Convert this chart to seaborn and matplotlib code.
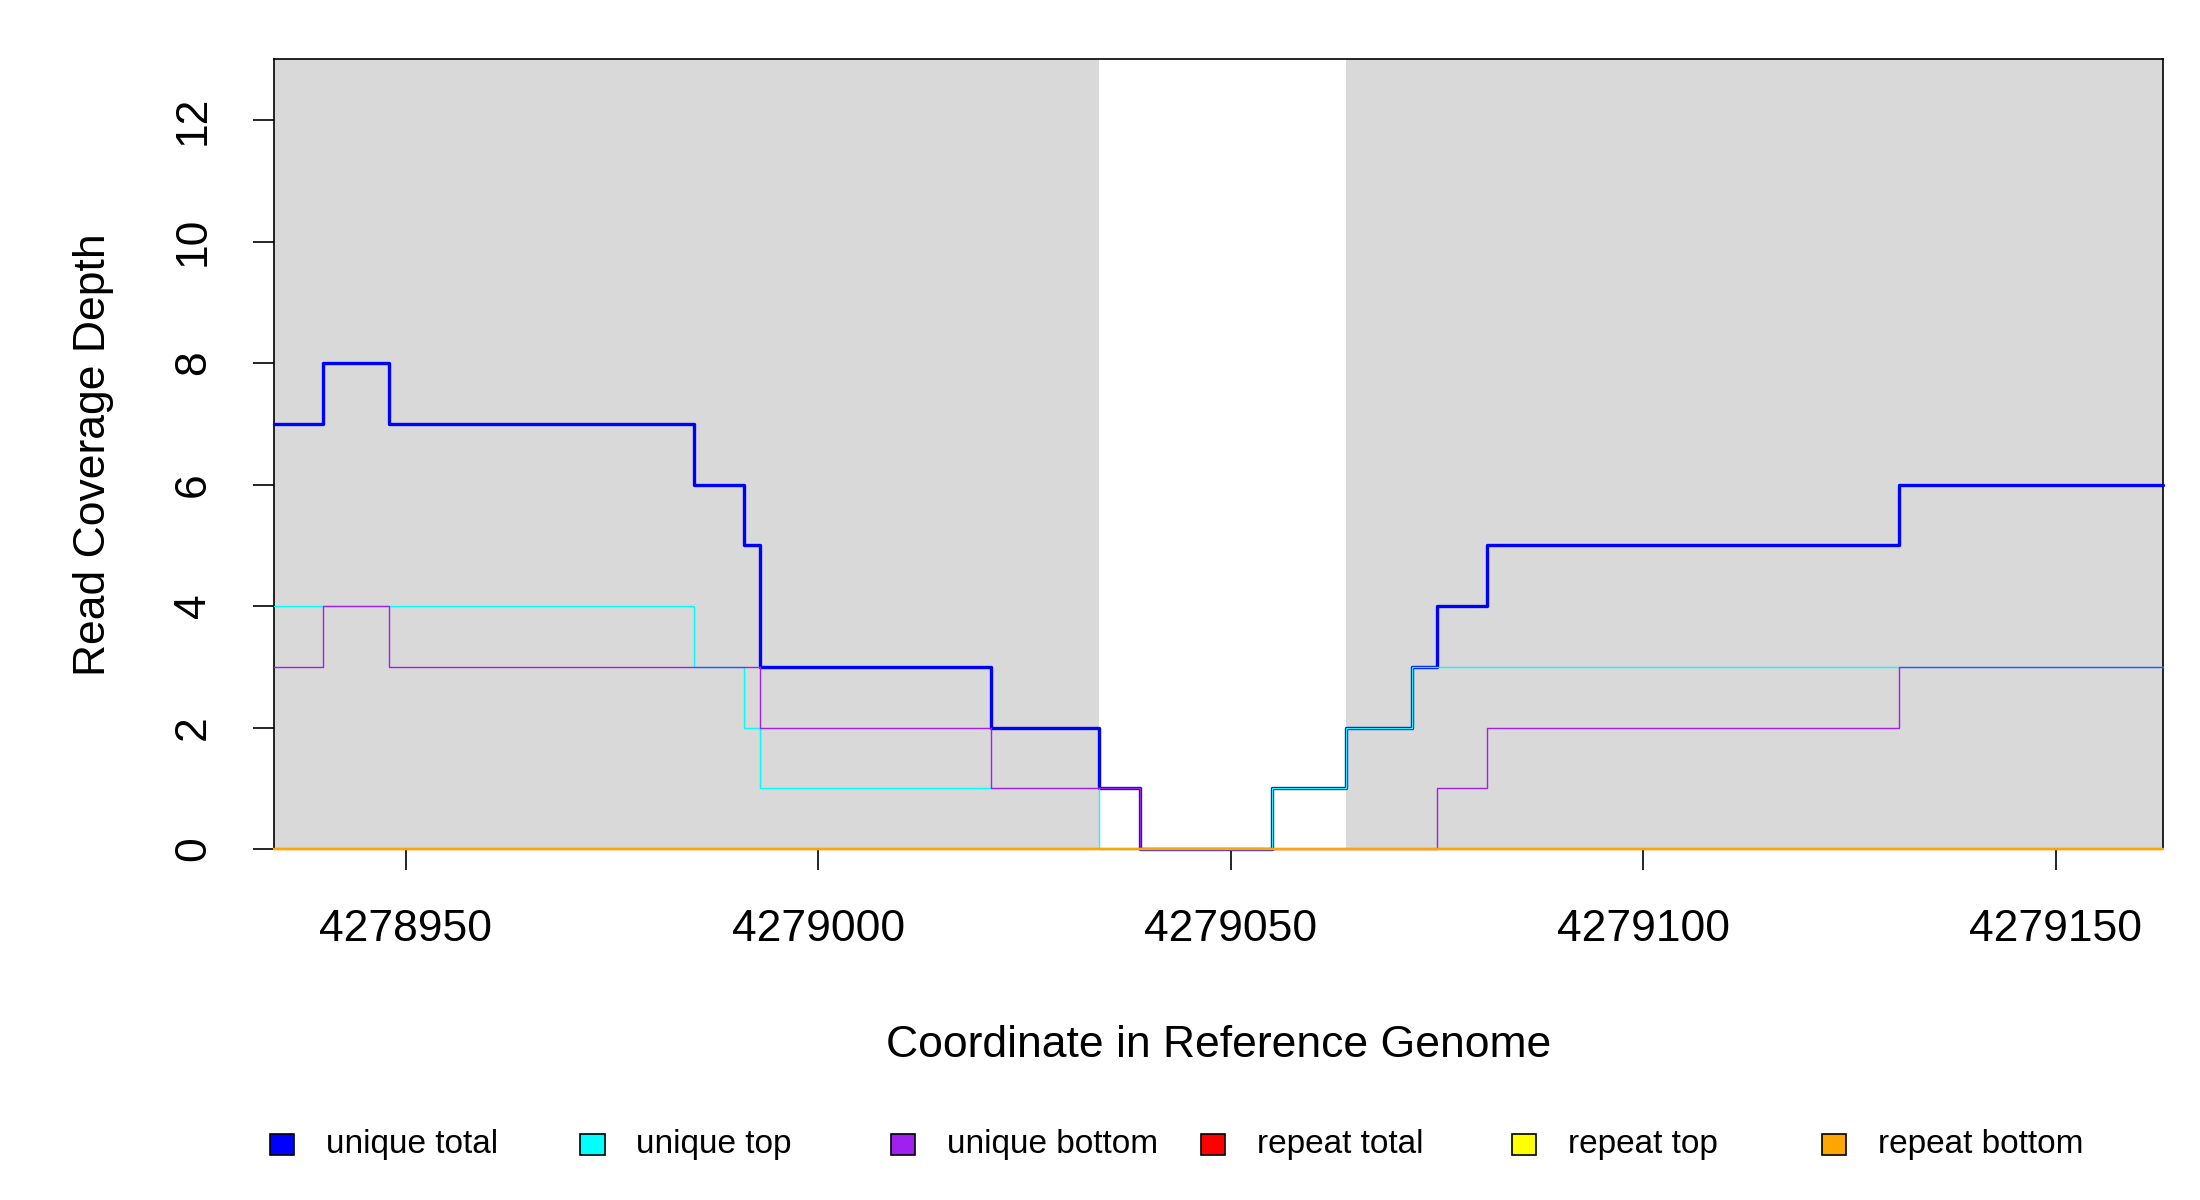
import matplotlib
matplotlib.use("Agg")
import matplotlib.pyplot as plt
from matplotlib.patches import Rectangle
import seaborn as sns
import pandas as pd

# breakpoints along the genome (step starts), last one is the right end
positions = [4278934, 4278940, 4278948, 4278985, 4278991, 4278993, 4279021, 4279034,
             4279039, 4279055, 4279064, 4279072, 4279075, 4279081, 4279131, 4279163]
unique_total = [7, 8, 7, 6, 5, 3, 2, 1, 0, 1, 2, 3, 4, 5, 6, 6]
unique_top = [4, 4, 4, 3, 2, 1, 1, 0, 0, 1, 2, 3, 3, 3, 3, 3]
unique_bottom = [3, 4, 3, 3, 3, 2, 1, 1, 0, 0, 0, 0, 1, 2, 3, 3]
repeat_total = [0] * len(positions)
repeat_top = [0] * len(positions)
repeat_bottom = [0] * len(positions)

# unshaded window
window_start = 4279034
window_end = 4279064

x_ticks = [4278950, 4279000, 4279050, 4279100, 4279150]
y_ticks = [0, 2, 4, 6, 8, 10, 12]

labels = ["unique total", "unique top", "unique bottom", "repeat total", "repeat top", "repeat bottom"]
colors = ["#0000FF", "#00FFFF", "#A020F0", "#FF0000", "#FFFF00", "#FFA500"]

df = pd.DataFrame({
    "pos": positions,
    "unique total": unique_total,
    "unique top": unique_top,
    "unique bottom": unique_bottom,
    "repeat total": repeat_total,
    "repeat top": repeat_top,
    "repeat bottom": repeat_bottom,
})

sns.set_theme(style="white")
plt.rcParams["font.family"] = ["Liberation Sans", "DejaVu Sans"]
plt.rcParams["text.color"] = "black"
plt.rcParams["axes.labelcolor"] = "black"
plt.rcParams["xtick.color"] = "black"
plt.rcParams["ytick.color"] = "black"

fig = plt.figure(figsize=(11, 6), dpi=200)
ax = fig.add_axes([0.1244, 0.2925, 0.9832 - 0.1244, 0.9505 - 0.2925])

xmin, xmax = positions[0], positions[-1]
ax.axvspan(xmin, window_start, color="#D9D9D9", lw=0, zorder=0)
ax.axvspan(window_end, xmax, color="#D9D9D9", lw=0, zorder=0)

widths = [1.2, 0.5, 0.5, 0.8, 0.8, 0.8]
for lab, col, w in zip(labels, colors, widths):
    sns.lineplot(data=df, x="pos", y=lab, drawstyle="steps-post", color=col,
                 linewidth=w, estimator=None, ax=ax, clip_on=False, zorder=3)

ax.set_xlim(xmin, xmax)
ax.set_ylim(0, 13)
ax.set_xticks(x_ticks)
ax.set_xticklabels([str(v) for v in x_ticks])
ax.set_yticks(y_ticks)
ax.set_yticklabels([str(v) for v in y_ticks], rotation=90, va="center")
ax.tick_params(axis="both", direction="out", length=7.5, width=0.6, color="black",
               labelcolor="black", labelsize=16, pad=14, bottom=True, left=True)
for s in ax.spines.values():
    s.set_color("black")
    s.set_linewidth(0.6)
ax.spines["bottom"].set_color("#666666")

ax.set_xlabel("Coordinate in Reference Genome", fontsize=16, color="black")
ax.set_ylabel("Read Coverage Depth", fontsize=16, color="black")
ax.xaxis.set_label_coords(0.5, -0.2226)
ax.yaxis.set_label_coords(-0.0847, 0.5)

# horizontal legend below the plot, evenly spaced like the original
for i, (lab, col) in enumerate(zip(labels, colors)):
    cx = 0.1282 + i * 0.1411
    fig.add_artist(Rectangle((cx - 0.0055, 0.0465 - 0.0088), 0.011, 0.0176,
                             facecolor=col, edgecolor="black", linewidth=0.6,
                             transform=fig.transFigure))
    fig.text(cx + 0.0200, 0.0465, lab, fontsize=12, va="center", ha="left",
             color="black")

fig.savefig("out.png", dpi=200, facecolor="white")
